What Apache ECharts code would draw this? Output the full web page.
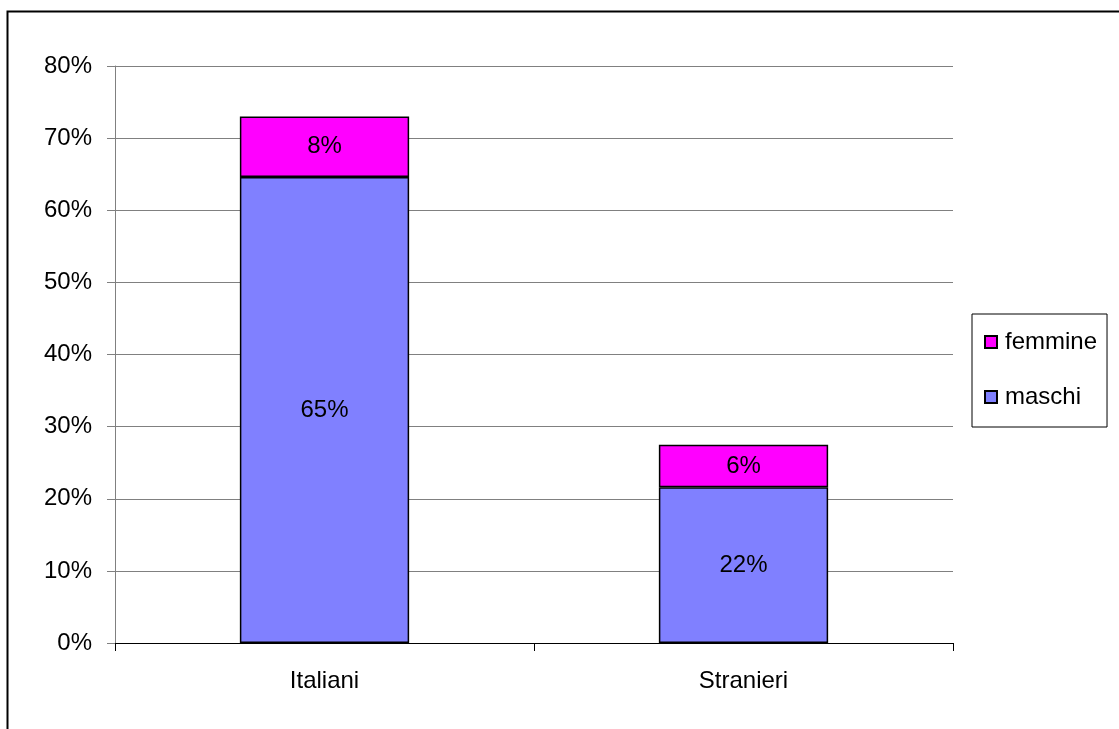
<!DOCTYPE html>
<html>
<head>
<meta charset="utf-8">
<script src="https://cdn.jsdelivr.net/npm/echarts@6/dist/echarts.min.js"></script>
<style>
  html, body { margin: 0; padding: 0; background: #fff; }
  #chart { width: 1119px; height: 729px; }
</style>
</head>
<body>
<div id="chart"></div>
<script>
// categorie e valori (percentuali)
var categories = ["Italiani", "Stranieri"];
var maschi = [64.6, 21.6];
var femmine = [8.4, 5.9];
var yTicks = [0, 10, 20, 30, 40, 50, 60, 70, 80];

var font = "Liberation Sans, Arial, sans-serif";
var myEcharts = echarts.init(document.getElementById("chart"));

var option = {
  animation: false,
  textStyle: { fontFamily: font },
  graphic: [{
    type: "rect",
    left: 5, top: 9,
    shape: { width: 1200, height: 800 },
    style: { fill: "none", stroke: "#000", lineWidth: 2 },
    silent: true
  }],
  grid: { left: 115, right: 166, top: 66, bottom: 86, containLabel: false },
  legend: {
    orient: "vertical",
    left: 972, top: 314,
    padding: [16, 10, 18, 12],
    itemGap: 31,
    itemWidth: 12, itemHeight: 12,
    icon: "rect",
    borderColor: "#000", borderWidth: 1,
    backgroundColor: "#fff",
    textStyle: { fontSize: 24, color: "#000", fontFamily: font, padding: [0, 0, 0, 3] },
    data: ["femmine", "maschi"]
  },
  xAxis: {
    type: "category",
    data: categories,
    boundaryGap: true,
    axisLine: { lineStyle: { color: "#000", width: 1 } },
    axisTick: { show: true, length: 8, lineStyle: { color: "#000" } },
    axisLabel: { fontSize: 24, color: "#000", margin: 26, fontFamily: font }
  },
  yAxis: {
    type: "value",
    min: 0, max: 80, interval: 10,
    axisLine: { show: true, lineStyle: { color: "#808080", width: 1 } },
    axisTick: { show: true, length: 8, lineStyle: { color: "#808080" } },
    splitLine: { show: true, lineStyle: { color: "#808080", width: 1 } },
    axisLabel: {
      fontSize: 24, color: "#000", margin: 23, fontFamily: font,
      formatter: function (v) { return yTicks.indexOf(v) >= 0 ? v + "%" : ""; }
    }
  },
  series: [
    {
      name: "maschi",
      type: "bar",
      stack: "tot",
      barWidth: "40.4%",
      data: maschi,
      itemStyle: { color: "#8080FF", borderColor: "#000", borderWidth: 1.5 },
      label: {
        show: true, position: "inside", color: "#000", fontSize: 24, fontFamily: font,
        formatter: function (p) { return Math.round(p.value) + "%"; }
      }
    },
    {
      name: "femmine",
      type: "bar",
      stack: "tot",
      barWidth: "40.4%",
      data: femmine,
      itemStyle: { color: "#FF00FF", borderColor: "#000", borderWidth: 1.5 },
      label: {
        show: true, position: "inside", color: "#000", fontSize: 24, fontFamily: font,
        formatter: function (p) { return Math.round(p.value) + "%"; }
      }
    }
  ]
};

myEcharts.setOption(option);
</script>
</body>
</html>
